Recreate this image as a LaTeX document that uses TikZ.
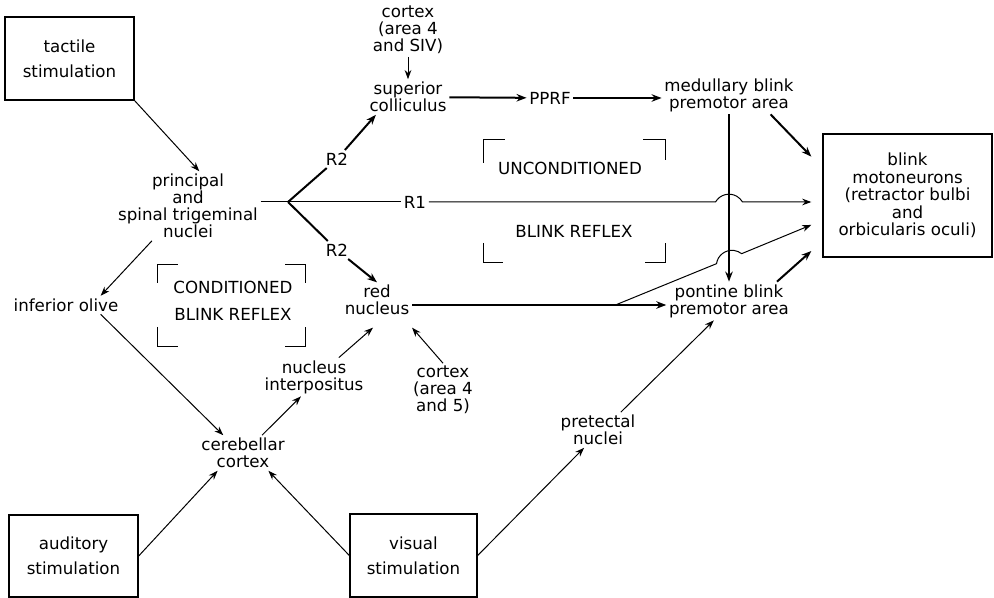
\documentclass[tikz,border=0pt]{standalone}
\usepackage{fontspec}
\setmainfont{DejaVu Sans}
\usetikzlibrary{arrows.meta}
\usetikzlibrary{calc}

\begin{document}
\begin{tikzpicture}[x=0.6pt, y=-0.6pt,
	lbl/.style={align=center, inner sep=1.5pt, font=\fontsize{10}{10.2}\selectfont},
	stimbox/.style={draw, line width=0.8pt, align=center, font=\fontsize{10}{15}\selectfont},
	thinarrow/.style={line width=0.6pt, -{Stealth[length=5.5pt, width=4pt]}},
	thickarrow/.style={line width=1.2pt, -{Stealth[length=6pt, width=4.5pt]}},
	bracket/.style={line width=0.6pt}]
\useasboundingbox (0,0) rectangle (994,598);

\node[stimbox, minimum width=77.4pt, minimum height=49.8pt] (tactile) at (69.5,58.5) {tactile\\stimulation};
\node[stimbox, minimum width=77.4pt, minimum height=49.2pt] (auditory) at (73.5,556) {auditory\\stimulation};
\node[stimbox, minimum width=76.2pt, minimum height=49.8pt] (visual) at (413.5,555.5) {visual\\stimulation};
\node[stimbox, font=\fontsize{10}{10.5}\selectfont, minimum width=101.4pt, minimum height=73.8pt, outer sep=7pt] (motor) at (907.5,195.5) {blink\\motoneurons\\(retractor bulbi\\and\\orbicularis oculi)};

\node[lbl] (ctxtop) at (408,30) {cortex\\(area 4\\and SIV)};
\node[lbl] (colliculus) at (408,97) {superior\\colliculus};
\node[lbl] (pprf) at (550,98) {PPRF};
\node[lbl] (medullary) at (729,95) {medullary blink\\premotor area};
\node[lbl] (principal) at (188,206) {principal\\and\\spinal trigeminal\\nuclei};
\node[lbl] (olive) at (66,305) {inferior olive};
\node[lbl, text depth=6pt] (red) at (377,305) {red\\nucleus};
\node[lbl] (pontine) at (729,301) {pontine blink\\premotor area};
\node[lbl] (ctxlow) at (443,390) {cortex\\(area 4\\and 5)};
\node[lbl] (interpositus) at (314,377) {nucleus\\interpositus};
\node[lbl] (cerebellar) at (243,453) {cerebellar\\cortex};
\node[lbl] (pretectal) at (598,430) {pretectal\\nuclei};
\node[lbl] (r2up) at (337,159) {R2};
\node[lbl] (r2low) at (337,250) {R2};
\node[lbl] (r1) at (415,202) {R1};
\node[lbl] (cond) at (233,301) {CONDITIONED\\[6pt]BLINK REFLEX};
\node[lbl] (uncond) at (570,168) {UNCONDITIONED};
\node[lbl] (reflex) at (574,231) {BLINK REFLEX};

\draw[bracket] (157,283) -- (157,265) -- (178,265);
\draw[bracket] (285,265) -- (305,265) -- (305,283);
\draw[bracket] (157,327) -- (157,347) -- (178,347);
\draw[bracket] (285,347) -- (305,347) -- (305,327);
\draw[bracket] (483,163) -- (483,140) -- (505,140);
\draw[bracket] (643,140) -- (665,140) -- (665,160);
\draw[bracket] (483,243) -- (483,263) -- (503,263);
\draw[bracket] (645,263) -- (665,263) -- (665,243);

\coordinate (fork) at (288,202);
\coordinate (vtop) at (medullary.south);
\coordinate (vbot) at (pontine.north);
\coordinate (tipC) at (motor.197);

\draw[line width=0.6pt] (principal.east |- fork) -- (fork);
\draw[line width=1.2pt] (fork) -- (r2up);
\draw[thickarrow] (r2up) -- (colliculus.209);
\draw[line width=1.2pt] (fork) -- (r2low);
\draw[thickarrow] (r2low) -- (red.north);
\draw[line width=0.6pt] (fork) -- (r1);
\coordinate (cross1) at (r1 -| vtop);
\draw[thinarrow] (r1) -- ($(cross1)!8.1pt!(r1)$) arc[start angle=150, end angle=30, radius=9.36pt] -- (r1 -| motor.west);

\draw[thinarrow] (tactile.south east) -- (principal.72);
\draw[thinarrow] (principal.224) -- (olive.15);
\draw[thinarrow] (olive.-15) -- (cerebellar.138);
\draw[thinarrow] (cerebellar.43) -- (interpositus.236);
\draw[thinarrow] (interpositus.38) -- (red.260);
\draw[thinarrow] (ctxlow.north) -- (red.south east);
\draw[thinarrow] (ctxtop) -- (colliculus);
\draw[thickarrow] (colliculus) -- (pprf);
\draw[thickarrow] (pprf) -- (pprf -| medullary.west);
\draw[thickarrow] (medullary.-25) -- (motor.158);
\draw[thickarrow] (vtop) -- (vbot);
\draw[thickarrow] (pontine.22) -- (motor.210);
\draw[thickarrow] (red.east) -- coordinate[pos=0.8] (split) (red.east -| pontine.west);
\coordinate (cross2) at (intersection of split--tipC and vtop--vbot);
\draw[thinarrow] (split) -- ($(cross2)!8.1pt!(split)$) arc[start angle=171.7, end angle=51.7, radius=9.36pt] -- (tipC);

\draw[thinarrow] (auditory.east) -- (cerebellar.215);
\draw[thinarrow] (visual.west) -- (cerebellar.-35);
\draw[thinarrow] (visual.east) -- (pretectal.232);
\draw[thinarrow] (pretectal.38) -- (pontine.232);
\end{tikzpicture}
\end{document}
